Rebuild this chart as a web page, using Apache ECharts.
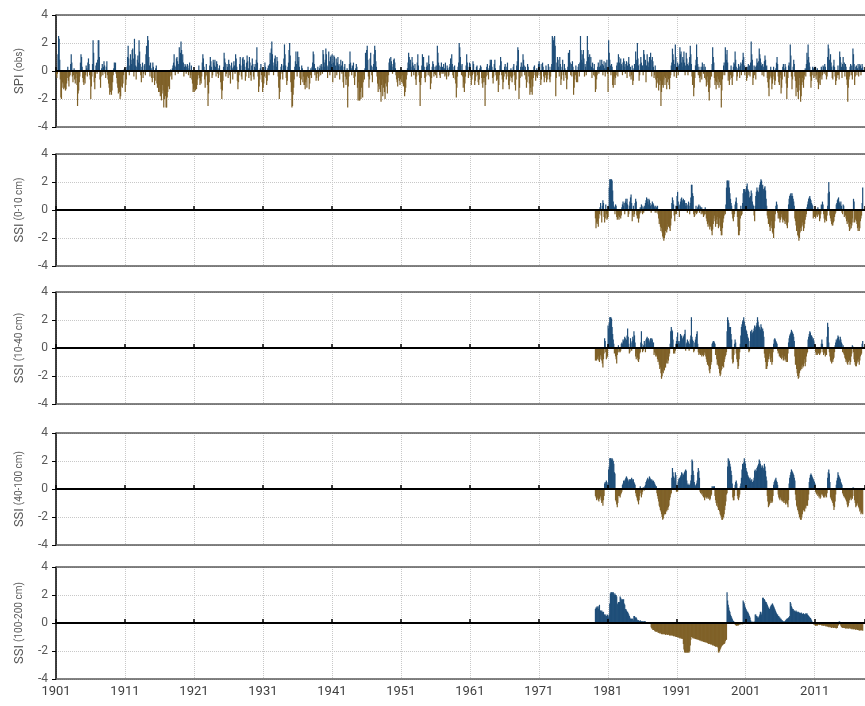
<!DOCTYPE html>
<html>
<head>
<meta charset="utf-8">
<script src="https://cdn.jsdelivr.net/npm/echarts@6/dist/echarts.min.js"></script>
<style>
  html, body { margin: 0; padding: 0; background: #fff; }
  #chart { width: 865px; height: 706px; }
</style>
</head>
<body>
<div id="chart"></div>
<script>
// Monthly indices, one row per year (Jan..Dec).
const spiStartYear = 1901;
const ssiStartYear = 1979;

const spiObs = [
  -0.3,-0.5,-0.2,1.2,2.5,2.3,0.8,-0.6,-1.9,-2.0,-1.2,-0.8,
  -0.9,-1.3,-1.2,-0.6,-1.4,-1.3,-0.9,-0.5,0.3,-0.7,-1.1,-0.4,
  -0.3,0.5,1.2,0.6,-0.4,-0.8,-0.3,0.2,-0.6,-0.9,-0.5,-0.2,
  -1.0,-2.5,-1.6,-1.4,-0.8,-0.4,0.6,1.2,1.0,0.3,-0.5,-0.8,
  -1.0,-0.6,-0.9,-0.3,0.4,0.2,-0.4,0.6,0.9,0.5,-0.3,-0.6,
  -2.0,-1.1,-0.4,0.5,2.2,1.3,-0.8,-1.3,-0.5,0.4,0.6,-0.2,
  0.8,2.2,2.2,1.0,-0.6,-1.2,-0.4,0.2,0.5,-0.3,0.3,0.7,
  0.4,-0.2,-0.5,0.3,0.7,-0.3,-0.6,-0.9,-1.2,-1.7,-1.5,-1.0,
  -1.7,-1.4,-0.8,-0.3,0.2,0.6,0.4,0.6,-0.2,-0.5,-0.9,-1.2,
  -1.6,-1.4,-1.5,-2.0,-1.8,-1.1,-0.6,-1.2,-0.9,-0.3,0.1,0.2,
  -1.5,-1.0,-0.6,0.3,1.0,1.8,0.9,-0.3,0.4,1.2,0.8,0.5,
  1.5,1.6,0.9,-0.4,2.3,1.2,0.4,-0.6,0.3,0.8,1.1,0.6,
  2.2,1.4,0.5,-0.3,-0.8,0.3,0.6,-0.5,-0.2,0.4,0.5,-0.3,
  1.2,1.8,0.7,2.5,2.2,1.0,0.4,-0.4,0.6,0.2,-0.5,-0.8,
  0.6,0.3,-0.5,-1.0,-0.7,0.2,0.4,-0.9,-1.2,-0.8,-1.5,-1.0,
  -1.5,-1.8,-1.3,-2.1,-1.6,-1.0,-1.4,-2.6,-2.0,-1.5,-1.8,-2.6,
  -2.6,-1.9,-1.5,-1.1,-0.7,-1.3,-0.4,0.1,-0.3,-0.6,0.2,0.4,
  0.6,1.2,0.4,-0.3,0.3,0.9,1.0,0.7,-0.2,0.5,1.7,0.9,
  1.3,2.1,1.5,0.8,1.2,0.6,-0.4,0.3,0.5,0.4,-0.2,0.3,
  0.5,0.4,-0.3,0.2,0.6,-0.5,-0.3,0.4,-0.6,-0.9,-1.5,-1.3,
  -1.5,-1.2,-1.4,-0.8,-1.3,-1.0,-0.6,-0.3,0.4,-0.5,-1.0,-0.7,
  -0.9,-0.4,0.6,1.2,0.9,0.3,-0.6,-1.2,-0.4,0.5,-0.3,-1.0,
  -2.5,-1.6,-0.8,0.4,1.0,0.7,0.3,-0.5,-0.3,0.8,0.6,0.4,
  0.8,0.3,-0.4,0.7,0.5,-0.2,-0.5,0.2,0.4,-0.3,-0.8,-1.3,
  -2.0,-1.4,-0.7,0.3,1.3,0.9,0.6,-0.4,-0.2,0.5,0.3,-0.5,
  0.8,0.5,-0.3,-0.9,0.4,0.6,0.2,-0.6,0.3,0.7,0.4,-0.2,
  1.2,0.9,0.3,-0.7,-1.3,-0.8,-0.3,0.5,1.0,0.4,-0.4,-0.6,
  0.9,1.0,0.5,0.8,0.3,-0.7,-0.4,0.6,1.1,0.7,0.2,-0.5,
  1.0,0.6,-0.3,-0.7,0.4,0.9,0.5,-0.4,-0.6,0.3,0.5,0.2,
  0.8,1.7,0.6,-0.4,-1.5,-1.1,-0.6,0.2,0.5,-0.3,-0.8,-1.5,
  -1.2,-0.9,-0.4,0.6,0.3,-0.5,-1.0,-0.7,0.2,0.4,-0.3,0.5,
  1.3,0.8,1.6,2.1,1.2,0.6,-0.3,0.4,0.9,1.1,0.5,0.3,
  1.0,0.7,-0.4,-1.2,-2.0,-1.5,-0.6,0.3,0.5,-0.2,-0.6,0.4,
  0.9,1.9,1.2,0.4,-0.5,-1.0,-0.7,0.3,0.6,1.5,2.0,1.1,
  -0.8,-1.5,-2.6,-2.5,-1.7,-1.2,-0.6,0.3,0.7,1.4,0.5,-0.4,
  1.4,0.7,1.0,0.3,-0.5,-1.0,-0.6,0.4,0.2,-0.8,-0.4,-1.0,
  -1.0,-1.3,-0.8,-0.6,-1.2,-0.4,0.3,-0.5,-1.3,-0.9,-0.3,0.2,
  -0.5,0.3,0.6,1.4,1.2,0.5,-0.3,0.2,-0.7,-0.5,-0.2,0.3,
  -0.7,-0.4,0.2,0.4,-0.3,0.5,0.3,-0.2,1.5,1.2,0.6,0.3,
  0.8,1.6,1.2,0.4,-0.5,0.3,1.4,0.7,-0.3,1.0,1.1,0.5,
  1.2,-0.8,0.6,1.1,1.0,-0.5,0.4,0.9,-0.3,0.6,1.0,0.4,
  0.5,-0.6,0.3,0.8,0.4,-0.2,0.7,-0.8,-1.2,0.3,0.5,-0.4,
  -1.0,-0.6,0.2,-2.6,-1.1,-0.4,0.5,1.4,0.6,0.2,-0.3,0.4,
  0.3,0.6,-0.5,-1.0,-0.4,0.2,0.5,0.3,-1.2,-2.1,-0.8,-2.1,
  -2.1,-1.5,-2.0,-1.2,-0.6,-1.9,-0.8,-0.3,-0.6,0.2,1.3,0.5,
  1.5,1.8,0.8,-0.4,-1.2,-0.6,0.9,1.3,0.4,-0.3,-0.8,0.3,
  0.5,1.2,1.8,1.5,0.7,0.3,-0.4,-0.9,-1.5,-1.1,-0.6,-1.3,
  -1.5,-2.2,-1.0,-0.6,-1.8,-1.2,-0.8,-1.5,-2.0,-0.9,-0.4,-1.1,
  -1.6,-0.8,-0.3,0.6,0.9,0.4,1.0,0.7,0.3,-0.2,0.5,0.8,
  0.9,0.6,0.2,-0.3,-0.6,-0.8,-1.1,-0.5,-0.3,-0.7,-1.0,-0.6,
  -0.4,-0.8,-0.3,-0.9,-1.1,-0.6,-1.8,-1.5,-1.2,-0.6,-0.3,0.2,
  0.6,1.3,1.0,0.5,0.8,0.3,-0.4,1.0,0.6,0.4,-0.3,0.2,
  0.5,-0.6,-1.0,-0.4,0.6,1.2,0.4,-0.3,-0.8,-2.5,-1.0,-0.5,
  0.4,1.2,0.8,1.0,0.3,-0.5,-0.8,-0.4,0.3,0.6,0.4,-0.3,
  1.1,0.5,-0.4,-1.3,-0.9,-0.5,0.3,0.7,0.5,-0.4,-0.2,0.3,
  -0.3,0.4,-0.5,1.8,1.3,0.6,0.4,-0.3,-0.5,0.3,0.6,-0.2,
  0.3,-0.2,0.5,0.2,-0.4,0.6,-0.3,-0.6,0.4,0.2,-0.4,-0.3,
  0.3,0.5,0.9,0.4,1.2,0.5,-0.3,-0.5,0.3,0.4,-0.6,-0.9,
  -1.9,-1.2,-0.4,0.3,0.6,2.0,1.7,1.0,0.4,-0.3,0.5,-0.4,
  -1.2,-0.8,-1.5,-0.9,-0.4,0.4,1.2,0.6,0.3,-0.5,-0.3,0.6,
  0.5,-0.4,-1.0,-0.6,-0.3,0.7,0.5,-0.2,-1.0,-0.7,-0.4,0.3,
  0.4,-0.3,-0.8,-1.0,-0.6,0.2,0.4,0.3,-0.5,-0.9,-1.2,-0.5,
  -0.8,-0.5,-2.5,-1.0,-0.4,0.3,0.5,-0.3,-0.6,0.2,0.4,0.8,
  0.6,0.8,0.3,-0.5,-0.9,-0.4,0.5,0.8,0.2,-0.3,-0.7,-0.4,
  -0.6,-1.5,-1.0,-0.3,0.4,1.0,0.7,-0.3,-0.6,-1.3,-0.8,-0.4,
  0.3,0.5,-0.2,-0.6,0.3,0.6,-0.4,-1.0,-1.3,-0.7,-0.4,0.2,
  -0.5,-0.8,-0.4,0.3,0.5,-0.3,-1.0,-1.4,-0.6,0.4,0.7,1.7,
  1.5,-2.0,-1.2,-0.5,0.3,0.6,-0.4,0.3,1.2,0.8,0.4,-0.3,
  0.3,-0.6,-1.2,-0.8,0.5,0.3,-0.4,-0.9,-1.7,-1.2,-1.5,-0.6,
  -1.7,-1.1,-0.5,0.3,0.4,-0.3,-0.7,-0.4,0.2,-0.5,-0.3,0.5,
  0.7,0.5,-0.3,-1.0,-0.6,0.5,0.6,0.3,-0.4,-0.8,-0.5,-0.3,
  0.4,-0.8,-0.6,-0.3,0.5,0.3,-0.6,-0.8,-0.4,0.3,0.5,2.5,
  2.4,2.2,1.6,2.5,1.8,-1.8,-0.5,0.6,1.0,0.8,0.3,-0.4,
  1.0,0.5,-1.0,-0.6,0.3,0.8,-0.3,-0.7,0.5,0.2,-0.3,-0.5,
  -1.3,-0.6,0.3,1.3,0.8,1.5,0.6,-0.3,0.5,-0.4,0.7,0.3,
  -1.7,-1.2,-0.6,-0.3,0.4,-0.8,-0.5,-0.8,0.3,0.5,-0.4,0.6,
  2.5,1.5,0.8,1.2,0.6,1.5,0.9,-0.4,0.5,0.3,-0.3,0.7,
  2.5,1.5,1.0,0.6,1.2,0.4,1.0,0.3,-0.5,0.6,0.2,-0.3,
  0.5,-0.4,-1.5,-1.3,-0.6,-0.3,0.3,0.6,-0.2,0.3,0.8,0.4,
  0.3,0.8,0.5,-0.3,0.4,0.7,0.2,-0.4,0.6,0.3,0.8,-0.2,
  -1.5,2.2,1.3,0.8,0.4,-0.3,0.5,0.3,-1.0,-1.2,-0.6,-0.4,
  -1.0,-0.5,-0.3,0.4,0.6,-0.4,1.2,1.0,0.6,0.3,0.9,0.5,
  0.4,-0.3,0.6,0.9,0.7,0.3,-0.2,0.5,0.7,-0.5,0.4,0.6,
  1.0,0.5,-0.4,0.3,-0.6,-0.3,0.4,-1.0,-0.7,0.2,0.5,0.3,
  1.4,0.8,0.6,2.0,0.9,0.4,-0.7,-0.3,0.5,1.0,0.6,0.3,
  0.4,-0.3,1.5,1.2,0.5,0.8,-0.8,0.4,1.2,0.7,0.3,0.6,
  1.0,0.6,1.3,0.8,-0.4,1.0,0.7,0.3,-0.5,-0.3,0.4,-0.6,
  -1.2,-0.8,-0.5,-0.9,-1.4,-0.6,-1.0,-0.7,-2.5,-1.5,-0.8,-1.0,
  -1.2,-0.6,-0.4,-1.0,-0.5,-0.3,-1.3,-0.8,-0.4,-0.6,-1.0,-1.3,
  -0.5,-0.3,0.4,0.6,1.6,1.2,0.8,-0.4,0.5,1.9,1.0,-0.5,
  0.3,0.6,-0.3,0.4,0.5,1.7,1.2,1.4,0.6,0.3,1.0,0.8,
  1.4,0.6,-0.3,0.4,1.3,0.9,0.5,-0.3,0.4,0.6,1.0,1.8,
  1.2,0.5,-0.4,-1.0,-0.6,-1.8,-1.2,-0.5,0.4,0.8,1.9,1.0,
  0.5,-0.3,0.3,-0.5,-0.8,-0.4,0.3,-0.6,0.6,0.3,-0.2,0.5,
  -0.5,0.3,-0.6,-1.1,-0.8,-0.4,-1.0,-1.5,-2.1,-1.2,-0.6,-0.3,
  -0.4,0.5,1.7,1.0,0.6,-0.5,-1.0,-0.7,-1.3,-0.8,-0.4,-1.0,
  -0.6,-1.2,-0.8,-0.5,-1.0,-2.6,-1.4,-0.6,-0.3,0.4,0.6,-0.3,
  1.7,1.2,0.8,1.5,0.6,-0.7,-0.4,-1.0,-0.6,-0.3,0.4,-0.5,
  -1.0,-0.4,0.3,0.6,0.5,1.4,0.8,0.3,-0.7,-0.4,0.2,0.5,
  0.3,-0.5,0.4,0.6,-0.3,0.5,0.8,1.3,1.0,0.4,-0.3,0.2,
  0.3,-0.7,-0.5,0.3,0.5,-0.3,0.4,-0.4,0.6,2.1,1.2,0.8,
  -1.0,-0.5,0.4,-0.3,0.3,-0.6,0.4,0.9,0.6,0.3,0.7,1.6,
  1.2,0.9,0.6,0.4,-0.3,0.5,0.3,-0.4,0.7,1.1,0.8,0.3,
  0.4,-0.5,-0.8,-1.2,-1.8,-0.6,-0.4,0.3,-0.5,-1.3,-0.9,-0.4,
  0.3,-0.6,-1.0,-0.7,0.2,0.6,1.0,0.5,-0.4,-0.8,-1.0,-0.5,
  -0.3,-1.6,-1.2,-0.6,0.3,0.5,0.2,-0.4,0.5,0.3,-0.9,-2.0,
  -1.2,-0.5,0.4,0.6,0.3,1.9,1.1,-0.4,-1.3,-0.6,0.3,0.8,
  0.5,-0.4,-0.7,-1.8,-1.2,-0.6,-1.5,-2.0,-1.0,-0.5,-1.4,-2.2,
  -1.8,-1.0,-0.5,-0.8,-1.2,-0.6,-0.3,0.2,-0.4,0.5,1.3,0.8,
  1.9,1.0,0.6,0.3,-0.4,-1.2,-0.7,-0.3,0.3,0.2,-0.5,0.3,
  -0.4,0.3,-0.6,-0.3,0.2,-0.8,-1.3,-0.9,-0.5,-1.0,-0.4,0.3,
  -0.6,-0.3,0.4,0.3,-0.2,0.5,0.3,-0.3,-0.6,-0.4,1.0,1.9,
  1.6,0.8,0.5,1.2,0.6,0.3,-0.5,-0.6,0.4,0.8,0.3,-0.4,
  -1.0,-0.7,-0.5,-0.3,0.4,-0.3,-0.6,1.4,1.0,0.6,0.3,-0.5,
  0.5,1.0,0.3,0.6,-0.4,0.5,0.3,-0.6,-1.0,-2.2,-1.2,-0.6,
  -0.4,0.3,0.5,-0.3,0.4,-0.6,1.6,1.2,0.5,-1.0,-0.4,0.3,
  0.4,-0.3,0.2,0.5,-0.4,0.3,0.5,0.4,-0.3,0.2,0.5,0.3
];

const ssi0to10 = [
  null,null,-0.6,-1.3,-0.9,-1.0,-0.8,-1.2,-0.6,-0.3,0.2,0.5,
  -0.4,-0.9,0.3,0.7,0.5,-0.5,-0.9,-0.6,0.4,-0.3,-0.7,-0.6,
  -0.5,0.3,1.6,2.2,2.2,2.1,2.2,2.1,1.4,0.6,0.3,0.2,
  -0.3,0.4,0.3,-0.5,-0.7,-0.6,-0.4,-0.7,-0.5,-0.3,-0.6,-0.4,
  0.2,0.4,0.6,0.3,0.5,-0.3,0.6,0.8,0.5,0.8,0.4,-0.5,
  -0.3,0.3,0.6,0.9,1.1,0.5,-0.8,-0.4,0.3,-0.5,-0.3,0.5,
  0.8,0.6,-0.4,-0.6,-0.3,-0.9,-0.6,-0.3,0.2,-0.2,0.4,0.3,
  -0.3,0.2,-0.2,0.3,0.2,0.5,0.7,0.9,0.8,0.6,0.4,0.8,
  0.7,0.5,0.3,-0.2,0.4,0.6,0.5,0.4,0.3,0.2,-0.2,0.3,
  0.2,-0.2,0.3,-0.3,-0.6,-1.0,-0.8,-1.2,-1.5,-1.3,-1.6,-1.9,
  -2.0,-2.2,-2.0,-1.8,-1.5,-1.2,-1.6,-1.4,-1.0,-1.2,-0.8,-1.3,
  -1.5,-1.1,-0.6,0.5,0.9,0.7,0.4,-0.4,-0.8,-0.3,0.3,-0.3,
  1.0,1.3,0.6,0.3,-0.5,0.4,0.6,0.8,0.9,0.7,0.5,0.8,
  0.6,0.7,0.5,0.3,0.5,0.3,-0.2,0.4,0.6,0.3,-0.3,0.5,
  0.9,1.8,1.8,1.2,1.0,-0.3,-0.5,-0.4,-0.2,0.3,-0.3,-0.2,
  0.2,0.3,0.4,-0.2,0.3,0.2,-0.3,0.2,-0.2,-0.3,-0.5,-0.4,
  -0.3,0.2,-0.3,-0.6,-0.8,-1.0,-1.2,-0.9,-1.1,-1.4,-1.2,-0.8,
  -1.5,-1.8,-1.4,-1.0,-0.6,-0.4,-0.8,-1.2,-1.0,-0.7,-0.5,-1.0,
  -1.3,-1.1,-0.6,-1.2,-1.5,-1.8,-1.8,-1.3,-0.9,-0.6,-0.4,-0.2,
  -0.3,0.4,1.6,2.1,2.1,2.0,2.1,1.6,1.2,0.8,0.5,0.3,
  -0.3,-0.6,-0.8,-0.5,-0.3,0.4,0.6,0.9,0.5,-0.5,-1.2,-1.8,
  -1.8,-1.5,-0.6,0.3,-0.4,-0.3,0.5,1.2,1.5,1.5,1.4,1.3,
  1.5,1.7,1.9,1.5,1.4,1.3,0.9,0.6,1.0,1.4,1.2,0.6,
  0.4,0.3,-0.4,-0.8,0.3,1.0,1.3,1.6,1.4,1.2,1.3,1.6,
  1.8,2.0,2.2,2.1,1.7,1.8,1.5,1.4,1.6,1.7,1.4,0.8,
  0.3,-0.4,-0.6,-1.0,-0.8,-1.2,-1.5,-1.1,-0.8,-1.3,-1.6,-1.7,
  -2.0,-1.3,-0.8,-0.3,0.3,0.6,0.4,-0.2,-0.6,-0.4,-0.6,-0.9,
  -0.7,-0.5,-0.3,-0.6,-0.9,-0.7,-0.4,-0.8,-1.0,-0.6,-0.9,-1.1,
  -1.3,-0.9,0.4,0.8,1.0,1.1,1.2,1.0,1.2,1.0,0.8,0.6,
  0.3,-0.6,-0.8,-1.1,-1.5,-1.3,-1.8,-1.9,-2.2,-2.0,-1.6,-1.3,
  -1.5,-1.2,-0.9,-1.1,-1.5,-1.3,-1.0,-0.7,-0.5,-0.3,0.2,0.4,
  0.6,0.8,0.9,1.0,0.8,0.7,0.5,0.4,0.3,-0.6,-0.4,-0.5,
  -0.3,-0.6,-0.4,-0.3,-0.5,0.2,-0.3,-0.4,-0.8,-0.6,-0.3,0.4,
  0.3,0.6,0.4,-0.3,-0.6,-0.9,-0.7,-0.5,-0.8,-0.4,0.3,1.2,
  2.0,1.3,-0.4,-0.6,-0.8,-1.0,-1.1,-1.1,-0.9,-0.8,-0.5,-0.3,
  -0.2,0.4,0.5,0.7,0.8,0.9,0.6,0.5,0.4,0.6,0.3,-0.2,
  -0.3,0.4,0.3,-0.5,-0.3,-0.4,-0.6,-0.8,-1.0,-0.7,-0.9,-1.2,
  -1.5,-1.4,-1.0,-1.3,-1.1,-0.6,-0.9,0.8,0.6,-0.9,-0.7,-0.6,
  -0.8,-1.0,-1.3,-1.5,-1.2,-1.5,-1.3,-0.8,-0.6,-0.4,0.5,1.6
];

const ssi10to40 = [
  null,null,-0.9,-0.8,-0.9,-0.7,-0.8,-0.6,-0.9,-1.0,-0.8,-0.5,
  -0.6,-0.9,-1.1,-1.4,-0.8,-0.4,0.7,0.5,-0.3,-0.8,-0.7,-0.6,
  1.6,1.4,1.8,2.2,2.2,2.2,2.1,1.5,1.0,0.6,0.3,-0.4,
  -0.3,-0.6,-0.8,-1.1,-0.5,-0.3,0.2,-0.3,-0.2,-0.3,-0.2,0.3,
  0.4,0.3,0.6,0.5,0.6,0.8,0.7,0.5,0.6,0.9,1.4,0.8,
  0.3,-0.4,-0.3,0.7,0.4,-0.2,0.5,0.8,0.6,1.2,0.9,0.4,
  -0.6,-0.8,-0.4,-0.7,-0.9,-1.0,-0.8,-0.4,-0.3,0.4,1.2,0.3,
  -0.3,-0.2,0.2,0.5,0.3,-0.3,0.6,0.7,0.8,0.6,0.7,0.5,
  0.4,0.6,0.7,0.5,0.7,0.6,0.3,0.4,-0.5,-0.3,-0.4,-0.6,
  -0.5,-0.6,-0.8,-1.0,-0.9,-1.2,-1.5,-1.4,-1.8,-2.2,-2.0,-1.7,
  -1.8,-1.5,-1.6,-1.2,-1.4,-1.0,-1.1,-0.8,-1.1,-0.9,-0.6,-0.4,
  0.3,1.2,1.5,1.3,1.2,0.6,-0.4,-0.3,-0.4,-0.2,0.3,0.5,
  0.8,1.1,0.5,0.4,0.3,0.5,1.0,0.8,0.9,0.6,0.7,0.8,
  0.9,1.0,1.3,-0.2,0.3,0.4,0.6,0.5,0.4,-0.2,0.3,0.6,
  0.9,2.2,0.8,0.6,0.5,-0.3,-0.2,0.4,0.6,0.8,1.0,1.2,
  0.3,-0.3,-0.5,-0.4,-0.3,-0.5,-0.4,-0.6,-0.5,-0.4,-0.6,-0.5,
  -0.3,-0.4,-0.6,-0.8,-1.0,-1.2,-0.9,-1.3,-1.6,-1.8,-1.5,-1.2,
  -1.0,0.3,0.4,0.5,0.5,0.4,0.3,-0.5,-0.3,-0.8,-1.2,-1.0,
  -1.3,-1.5,-1.8,-2.0,-1.9,-1.6,-1.5,-1.3,-1.2,-1.4,-1.0,-0.8,
  -0.6,-0.5,-0.3,1.2,2.2,2.0,1.8,1.5,1.3,1.5,1.0,0.6,
  -0.8,-1.1,-1.0,-0.5,0.3,0.6,0.4,-0.4,-0.8,-1.0,-1.5,-1.3,
  -0.8,-0.3,0.3,0.9,1.5,1.7,1.9,2.0,2.2,1.9,1.5,1.6,
  1.3,1.2,1.0,0.8,0.7,-0.3,-0.2,0.5,1.2,1.0,1.3,1.1,
  0.9,1.2,1.4,1.6,1.3,1.5,1.6,1.8,2.2,1.9,1.6,1.5,
  1.4,1.3,1.7,1.5,1.3,1.4,1.2,0.8,-0.4,-0.7,-1.0,-1.5,
  -1.5,-1.3,-1.0,-0.8,-0.6,-0.4,-0.8,-1.0,-0.7,-1.2,-1.0,-0.3,
  0.3,0.6,0.7,0.6,0.5,0.4,0.3,-0.2,-0.4,-0.3,-0.6,-0.5,
  -0.7,-0.6,-0.8,-0.5,-0.7,-0.9,-0.8,-0.6,-0.9,-0.8,-1.0,-0.7,
  -1.0,-0.4,0.4,0.7,0.9,1.0,1.1,1.3,1.2,1.1,1.0,0.8,
  0.5,-0.6,-1.2,-1.0,-1.5,-1.8,-2.0,-2.2,-2.1,-1.8,-1.5,-1.6,
  -1.3,-1.5,-1.2,-1.4,-1.3,-1.1,-0.8,-1.3,-1.0,-0.6,-0.4,-0.3,
  0.6,0.8,1.0,1.2,1.1,0.9,0.9,0.8,0.6,0.7,0.5,0.3,
  0.2,-0.3,-0.5,-0.4,-0.5,-0.3,-0.4,-0.2,-0.5,-0.4,-0.3,0.3,
  0.6,0.3,-0.3,-0.5,-0.4,-0.3,-0.6,-0.4,-0.5,0.8,1.8,1.5,
  0.4,-0.3,-0.6,-0.9,-1.0,-1.1,-0.9,-1.0,-0.8,-0.7,-0.3,0.2,
  0.4,0.6,0.5,0.7,0.9,0.8,0.6,0.5,0.8,0.6,0.4,0.3,
  -0.3,0.2,-0.4,-0.5,-0.7,-0.8,-1.0,-0.9,-1.1,-1.2,-1.0,-0.8,
  -0.9,-1.2,-1.0,-0.6,-0.4,0.2,0.1,-0.3,-0.8,-1.0,-1.2,-1.3,
  -1.3,-1.1,-0.9,-1.0,-0.8,-1.2,-0.9,-0.6,-0.5,-0.4,0.3,0.5
];

const ssi40to100 = [
  null,null,-0.5,-0.6,-0.8,-0.7,-0.6,-0.8,-0.9,-0.7,-0.6,-0.5,
  -0.8,-1.0,-0.9,-1.2,-0.8,-0.5,0.4,0.5,0.4,0.6,0.5,0.3,
  0.4,1.4,1.6,2.2,2.2,2.2,2.1,2.2,2.1,2.0,1.8,1.2,
  1.1,-0.8,-0.9,-1.1,-1.3,-1.0,-0.5,-0.4,-0.5,-0.6,-0.4,-0.3,
  -0.2,0.3,0.4,0.6,0.5,0.6,0.7,0.8,0.9,0.8,0.7,0.6,
  0.5,0.7,0.6,0.7,0.6,0.8,0.7,0.6,0.7,0.5,0.4,0.3,
  -0.3,-0.5,-0.6,-0.8,-0.9,-1.1,-0.8,-0.5,0.2,-0.3,-0.6,-0.4,
  -0.2,0.1,0.1,-0.1,0.2,0.3,0.5,0.6,0.7,0.8,0.7,0.6,
  0.9,0.8,0.7,0.6,0.7,0.6,0.5,0.6,0.5,0.4,0.3,0.2,
  0.2,-0.3,-0.5,-0.7,-0.9,-1.2,-1.3,-1.5,-1.6,-1.8,-2.0,-2.2,
  -2.1,-1.9,-1.8,-1.6,-1.8,-1.5,-1.6,-1.4,-1.5,-1.3,-1.2,-0.8,
  -0.6,-0.4,-0.3,0.8,1.5,1.2,0.9,0.8,0.6,1.2,1.0,-0.2,
  0.3,-0.2,0.5,0.7,0.8,0.6,0.9,1.0,1.2,1.1,0.9,1.0,
  1.1,1.2,1.3,1.4,1.3,0.6,0.3,0.4,0.3,0.2,0.3,0.4,
  0.6,1.0,2.1,2.0,1.3,1.0,0.5,0.3,0.2,0.3,0.4,0.6,
  1.2,1.5,1.3,0.8,-0.2,-0.3,-0.2,-0.4,-0.3,-0.5,-0.6,-0.4,
  -0.8,-0.6,-0.5,-0.6,-0.7,-0.6,-0.5,-0.7,-0.6,-0.8,-0.7,-0.5,
  -0.4,0.2,0.1,0.2,0.1,0.2,-0.5,-0.8,-1.0,-1.2,-1.0,-1.3,
  -1.5,-1.4,-1.6,-1.8,-1.9,-2.0,-2.2,-2.2,-2.1,-2.0,-1.8,-1.5,
  -1.2,-0.9,-0.4,-0.3,1.6,2.2,2.1,2.0,1.8,1.6,1.3,1.0,
  0.4,-0.6,-0.8,-0.8,-0.5,0.3,0.5,0.6,0.4,-0.5,-0.7,-0.8,
  -0.6,-0.4,0.2,0.4,0.8,1.4,1.8,1.7,1.9,2.2,2.0,1.8,
  1.5,1.3,1.2,1.0,0.9,0.8,0.7,0.8,0.6,0.6,0.7,0.5,
  0.5,0.6,0.8,1.3,1.4,1.2,1.3,1.5,1.6,1.7,1.8,2.1,
  2.0,1.8,1.6,1.5,1.7,1.6,1.4,1.5,1.8,1.6,1.3,0.9,
  0.6,-0.5,-0.9,-1.3,-1.2,-1.1,-1.0,-0.8,-0.9,-1.0,-0.9,-0.5,
  0.3,0.5,0.6,0.7,0.8,0.6,0.5,0.3,-0.4,-0.6,-0.7,-0.8,
  -0.6,-0.7,-0.8,-0.9,-0.8,-0.9,-1.0,-0.8,-1.0,-1.1,-0.9,-1.0,
  -1.1,-1.3,-0.8,0.4,0.8,1.0,1.2,1.4,1.3,1.2,1.1,1.0,
  0.8,0.6,-0.4,-0.8,-1.2,-1.3,-1.5,-1.6,-1.8,-2.0,-2.1,-2.2,
  -2.2,-2.0,-1.8,-1.6,-1.5,-1.4,-1.6,-1.3,-1.4,-1.2,-1.0,-1.2,
  -0.8,-0.4,0.5,0.8,1.0,1.1,1.0,0.9,0.8,0.7,0.6,0.5,
  0.4,-0.2,-0.3,-0.4,-0.3,-0.5,-0.4,-0.6,-0.5,-0.7,-0.6,-0.4,
  -0.3,-0.4,-0.5,-0.6,-0.5,-0.6,-0.4,-0.5,-0.6,-0.3,0.8,1.2,
  1.4,1.1,0.5,-0.6,-0.7,-0.8,-0.9,-1.0,-1.2,-1.5,-1.3,-0.9,
  -0.4,0.3,0.6,0.8,1.2,1.0,0.9,0.8,0.7,0.5,0.4,0.3,
  -0.3,-0.4,-0.5,-0.6,-0.5,-0.7,-0.8,-0.9,-1.1,-1.3,-1.2,-1.0,
  -0.8,-0.7,-0.6,-0.8,-0.6,-0.7,0.1,0.1,-0.5,-0.8,-1.0,-1.3,
  -1.2,-1.1,-1.0,-1.2,-1.3,-1.4,-1.6,-1.5,-1.8,-1.7,-1.6,-1.8
];

const ssi100to200 = [
  null,null,1.0,1.1,1.1,1.2,1.1,1.0,1.2,1.3,0.9,0.9,
  0.8,0.9,0.8,0.7,0.8,0.6,0.6,0.5,0.6,0.5,0.5,0.6,
  0.5,0.4,0.6,1.4,2.1,2.2,2.2,2.1,2.2,2.2,2.1,2.0,
  2.1,2.0,2.0,1.9,1.4,1.3,1.5,1.4,1.5,1.9,1.8,1.7,
  1.6,1.7,1.5,1.7,1.4,1.3,1.0,1.0,0.9,0.8,0.8,0.7,
  0.6,0.5,0.4,0.3,0.3,0.3,0.3,0.3,0.2,0.5,0.5,0.4,
  0.4,0.4,0.3,0.2,0.2,0.2,0.15,0.15,0.2,0.15,0.1,0.15,
  0.1,0.1,0.1,0.1,0.15,0.1,0.05,0.05,0.05,0.03,0.05,0.05,
  0.03,0.02,0.03,-0.3,-0.4,-0.4,-0.5,-0.5,-0.5,-0.55,-0.6,-0.6,
  -0.6,-0.65,-0.6,-0.7,-0.7,-0.7,-0.75,-0.7,-0.75,-0.8,-0.75,-0.8,
  -0.8,-0.75,-0.8,-0.8,-0.85,-0.8,-0.8,-0.85,-0.85,-0.8,-0.85,-0.9,
  -0.85,-0.9,-0.9,-0.85,-0.9,-0.9,-0.95,-0.9,-0.95,-0.95,-1.0,-1.0,
  -0.95,-1.0,-1.05,-1.0,-1.05,-1.1,-1.05,-1.1,-1.1,-1.15,-1.1,-1.5,
  -1.9,-2.1,-2.1,-2.1,-2.1,-2.1,-2.1,-2.1,-2.1,-2.1,-2.0,-1.6,
  -1.2,-1.0,-1.0,-1.05,-1.1,-1.05,-1.1,-1.1,-1.15,-1.1,-1.15,-1.2,
  -1.15,-1.2,-1.2,-1.25,-1.2,-1.25,-1.3,-1.25,-1.3,-1.3,-1.35,-1.3,
  -1.35,-1.4,-1.35,-1.4,-1.4,-1.45,-1.4,-1.5,-1.45,-1.5,-1.5,-1.55,
  -1.5,-1.55,-1.6,-1.55,-1.6,-1.65,-1.6,-1.7,-1.65,-1.7,-1.7,-1.75,
  -2.1,-2.1,-2.0,-1.9,-1.8,-1.7,-1.6,-1.6,-1.55,-1.5,-1.5,-1.45,
  -1.3,-1.2,-1.2,2.2,1.6,1.3,1.1,0.9,0.8,0.6,0.5,0.4,
  0.3,0.2,0.15,0.1,0.05,-0.1,-0.15,-0.2,-0.2,-0.15,-0.2,-0.15,
  -0.1,-0.1,-0.05,-0.1,-0.05,-0.05,-0.1,1.6,1.5,1.4,1.2,1.1,
  1.0,0.9,0.8,0.8,0.7,0.6,0.5,0.4,0.2,0.1,0.05,0.05,
  0.1,0.05,0.05,0.1,0.6,0.6,0.5,0.5,0.4,0.4,0.4,0.5,
  0.6,0.8,0.7,0.6,0.8,1.8,1.8,1.7,1.7,1.6,1.5,1.5,
  1.4,1.3,1.2,1.1,1.0,1.0,1.1,1.2,1.3,1.3,1.4,1.3,
  1.2,1.1,1.0,0.9,0.8,0.7,0.6,0.6,0.5,0.5,0.4,0.4,
  0.3,0.3,0.2,0.2,0.15,0.1,0.1,0.1,0.15,0.2,0.25,0.3,
  0.3,0.35,0.4,0.4,0.5,1.5,1.4,1.2,1.1,1.0,1.0,0.9,
  0.9,0.85,0.8,0.9,0.8,0.8,0.75,0.8,0.7,0.75,0.7,0.7,
  0.75,0.7,0.65,0.6,0.7,0.65,0.6,0.6,0.7,0.65,0.7,0.6,
  0.55,0.5,0.45,0.4,0.35,0.3,0.2,0.1,0.05,-0.05,-0.1,-0.1,
  -0.15,-0.2,-0.2,-0.15,-0.2,-0.15,-0.1,-0.1,-0.15,-0.15,-0.1,-0.15,
  -0.2,-0.15,-0.2,-0.2,-0.15,-0.2,-0.2,-0.25,-0.2,-0.25,-0.25,-0.25,
  -0.3,-0.25,-0.3,-0.3,-0.3,-0.35,-0.3,-0.3,-0.35,-0.35,-0.3,-0.35,
  -0.35,-0.4,-0.35,-0.35,-0.2,-0.15,0.1,0.1,-0.1,-0.2,-0.3,-0.3,
  -0.35,-0.3,-0.35,-0.35,-0.35,-0.4,-0.35,-0.4,-0.35,-0.4,-0.4,-0.4,
  -0.35,-0.4,-0.4,-0.4,-0.45,-0.4,-0.45,-0.45,-0.4,-0.45,-0.45,-0.5,
  -0.45,-0.45,-0.5,-0.5,-0.5,-0.55,-0.5,-0.5,-0.55,-0.5,-0.5,-0.55
];

// Decade tick labels along the bottom axis (every 120 months).
const decadeLabels = ['1901','1911','1921','1931','1941','1951','1961','1971','1981','1991','2001','2011'];

// Axis titles: main part and smaller parenthetical part.
const panelTitles = [
  ['SPI', '(obs)'],
  ['SSI', '(0-10 cm)'],
  ['SSI', '(10-40 cm)'],
  ['SSI', '(40-100 cm)'],
  ['SSI', '(100-200 cm)']
];

const panelSeries = [
  { values: spiObs, startYear: spiStartYear },
  { values: ssi0to10, startYear: ssiStartYear },
  { values: ssi10to40, startYear: ssiStartYear },
  { values: ssi40to100, startYear: ssiStartYear },
  { values: ssi100to200, startYear: ssiStartYear }
];

const WET = '#1f4e79';
const DRY = '#7f6128';
const FONT = 'Roboto, "Liberation Sans", sans-serif';

const panelTops = [15, 154, 292, 433, 567];
const panelHeight = 112;
const X_MAX = 1407.5;   // months since Jan 1901 at the right edge

function toPoints(values, startYear) {
  const offset = (startYear - spiStartYear) * 12;
  const pts = [];
  values.forEach((v, i) => {
    if (v !== null) pts.push([offset + i + 0.5, v]);
  });
  return pts;
}

const grids = [], xAxes = [], yAxes = [], series = [];

panelSeries.forEach((p, k) => {
  grids.push({ left: 56, right: -2, top: panelTops[k], height: panelHeight, containLabel: false });

  // zero line with upward decade ticks
  xAxes.push({
    type: 'value', gridIndex: k, min: 0, max: X_MAX, interval: 120,
    position: 'bottom', z: 5,
    axisLine: { onZero: true, lineStyle: { color: '#000', width: 2 } },
    axisTick: { show: true, inside: true, length: 4, lineStyle: { color: '#000', width: 1.5 } },
    axisLabel: { show: false },
    splitLine: { show: false }
  });
  // decade gridlines (and year labels on the last panel)
  xAxes.push({
    type: 'value', gridIndex: k, min: 0, max: X_MAX, interval: 120,
    position: 'bottom', z: 0,
    axisLine: { show: false, onZero: false },
    axisTick: { show: false },
    axisLabel: {
      show: k === panelSeries.length - 1,
      margin: 6,
      color: '#404040', fontSize: 13, fontFamily: FONT,
      showMaxLabel: false,
      formatter: v => (v % 120 === 0 ? (decadeLabels[v / 120] || '') : '')
    },
    splitLine: { show: true, lineStyle: { color: '#c8c8c8', type: 'dotted', width: 1 } }
  });

  yAxes.push({
    type: 'value', gridIndex: k, min: -4, max: 4, interval: 2,
    name: '{m|' + panelTitles[k][0] + '} {s|' + panelTitles[k][1] + '}',
    nameLocation: 'middle', nameRotate: 90, nameGap: 30,
    nameTextStyle: {
      color: '#595959', fontFamily: FONT,
      rich: {
        m: { fontSize: 13, color: '#595959', fontFamily: FONT },
        s: { fontSize: 10, color: '#595959', fontFamily: FONT }
      }
    },
    axisLine: { show: true, onZero: false, lineStyle: { color: '#000', width: 1.5 } },
    axisTick: { show: true, length: 4, lineStyle: { color: '#000', width: 1 } },
    axisLabel: { color: '#595959', fontSize: 12, fontFamily: FONT, margin: 8 },
    splitLine: { show: true, lineStyle: { color: '#c8c8c8', type: 'dotted', width: 1 } }
  });

  series.push({
    type: 'bar',
    xAxisIndex: k * 2, yAxisIndex: k,
    data: toPoints(p.values, p.startYear),
    barWidth: 1.2,
    clip: true,
    silent: true,
    itemStyle: { color: params => (params.value[1] >= 0 ? WET : DRY) },
    markLine: {
      silent: true, symbol: ['none', 'none'],
      label: { show: false },
      lineStyle: { color: '#5a5a5a', type: 'solid', width: 1.5 },
      data: [{ yAxis: 4 }, { yAxis: -4 }]
    }
  });
});

const chart = echarts.init(document.getElementById('chart'), null, { renderer: 'canvas' });
chart.setOption({
  animation: false,
  backgroundColor: '#fff',
  grid: grids,
  xAxis: xAxes,
  yAxis: yAxes,
  series: series
});
</script>
</body>
</html>
